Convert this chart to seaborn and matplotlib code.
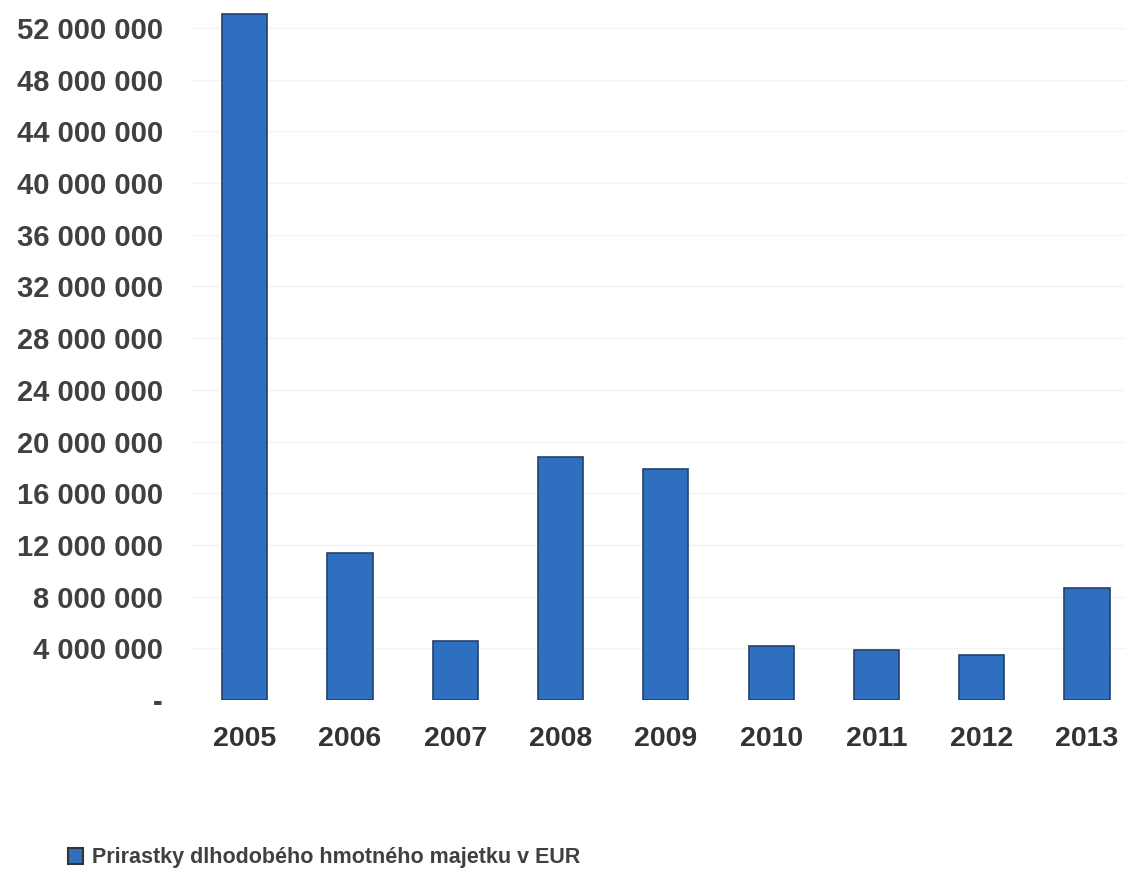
import matplotlib
matplotlib.use('Agg')
import matplotlib.pyplot as plt
import matplotlib.ticker as mticker
import seaborn as sns
import pandas as pd

# values (EUR)
years = ['2005', '2006', '2007', '2008', '2009', '2010', '2011', '2012', '2013']
values = [53100000, 11400000, 4600000, 18800000, 17900000, 4200000, 3850000, 3450000, 8650000]
series_name = 'Prirastky dlhodobého hmotného majetku v EUR'
y_ticks = list(range(0, 52000001, 4000000))

df = pd.DataFrame({'year': years, 'value': values})

sns.set_style('white')
plt.rcParams['font.family'] = ['Liberation Sans', 'DejaVu Sans']

fig = plt.figure(figsize=(11.26, 8.77), dpi=100)
ax = fig.add_axes([192 / 1126, 1 - 700 / 877, 1 - 192 / 1126, 695 / 877])

sns.barplot(x='year', y='value', data=df, color='#2f6fc0', width=0.43,
            edgecolor='#22416b', linewidth=1.2, saturation=1,
            label=series_name, ax=ax)

ax.set_xlim(-0.5, 8.37)
ax.set_ylim(0, 53780000)
ax.set_yticks(y_ticks)

def fmt(v, pos):
    if v == 0:
        return '-'
    return '{:,.0f}'.format(v).replace(',', ' ')

ax.yaxis.set_major_formatter(mticker.FuncFormatter(fmt))
ax.grid(axis='y', color='#f3f3f3', linewidth=1)
ax.set_axisbelow(True)
for s in ax.spines.values():
    s.set_visible(False)
ax.set_xlabel('')
ax.set_ylabel('')
ax.tick_params(axis='y', length=0, pad=21, labelsize=21, labelcolor='#404040')
ax.tick_params(axis='x', length=0, pad=19, labelsize=20.5, labelcolor='#333333')
for t in ax.get_xticklabels() + ax.get_yticklabels():
    t.set_fontweight('bold')

if ax.legend_:
    ax.legend_.remove()
handles, labels = ax.get_legend_handles_labels()
leg = fig.legend(handles, labels, loc='center left',
                 bbox_to_anchor=(49 / 1126, 1 - 858 / 877), frameon=False,
                 handlelength=0.7, handleheight=0.7, handletextpad=0.4,
                 prop={'weight': 'bold', 'size': 15.5})
for t in leg.get_texts():
    t.set_color('#404040')
for h in leg.legend_handles:
    h.set_edgecolor('#333333')
    h.set_linewidth(1.5)

fig.savefig('out.png', dpi=100)
